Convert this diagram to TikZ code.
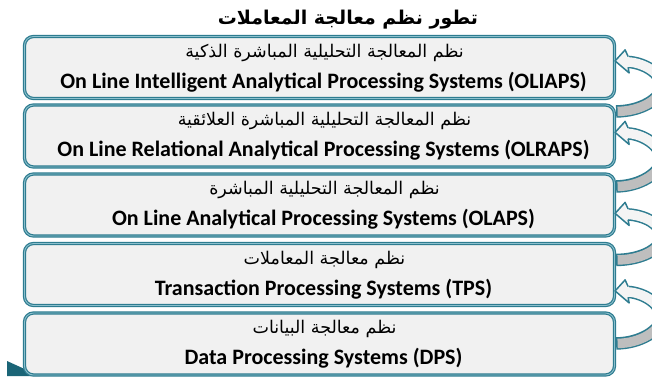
\documentclass[tikz,border=0pt]{standalone}
\usepackage{fontspec}
\usetikzlibrary{calc}
\TeXXeTstate=1
\newfontfamily\arabicfont[Script=Arabic]{DejaVu Sans}
\newfontfamily\latinfont{Carlito}
\definecolor{tealD}{HTML}{2E7C90}
\definecolor{tealL}{HTML}{8CC0CD}
\definecolor{boxfill}{HTML}{F1F1F1}
\definecolor{arrgray}{HTML}{BEBEBE}
\definecolor{arrlight}{HTML}{F4F4F4}
\definecolor{cornerdark}{HTML}{1B6577}
\tikzset{
  sysbox/.style={draw=tealD, double=tealL, double distance=0.9pt, line width=1.2pt,
    fill=boxfill, rounded corners=9pt, minimum width=590pt, minimum height=62pt, inner sep=0pt},
  artext/.style={anchor=base, inner sep=0pt, font=\arabicfont\fontsize{17.5}{20}\selectfont},
  entext/.style={anchor=base, inner sep=0pt, font=\latinfont\bfseries\fontsize{22}{24}\selectfont},
  shaftout/.style={draw=tealD, line width=12.5pt},
  shaftlow/.style={draw=arrgray, line width=9.5pt},
  shaftup/.style={draw=arrlight, line width=9.5pt},
  headfill/.style={fill=arrlight},
  headline/.style={draw=tealD, line width=1.5pt, line join=round},
}
% #1 tail coordinate, #2 head tip coordinate
\newcommand\bentarrow[2]{%
  \coordinate (hb) at ($(#2)+(13,1)$);
  \coordinate (mm) at ($(#1)!0.5!(#2)+(46,0)$);
  \draw[shaftout] (#1) .. controls ($(#1)+(24,0)$) and ($(mm)+(0,13)$) .. (mm)
     .. controls ($(mm)+(0,-13)$) and ($(hb)+(16,1)$) .. (hb);
  \draw[shaftlow] ($(#1)+(1.5,0)$) .. controls ($(#1)+(24,0)$) and ($(mm)+(0,13)$) .. (mm);
  \draw[shaftup] (mm) .. controls ($(mm)+(0,-13)$) and ($(hb)+(16,1)$) .. (hb);
  \fill[headfill] (#2) -- ($(hb)+(-3,-12)$) -- ($(hb)+(1,11)$) -- cycle;
  \fill[headfill] ($(hb)+(-2,-4.7)$) rectangle ($(hb)+(0.5,4.7)$);
  \draw[headline] ($(hb)+(0,-5.4)$) -- ($(hb)+(-3,-12)$) -- (#2) -- ($(hb)+(1,11)$) -- ($(hb)+(0,5.4)$);
}
\begin{document}
\begin{tikzpicture}[x=1pt,y=-1pt]
\useasboundingbox (0,0) rectangle (652,376);
\clip (0,0) rectangle (652,376);
\fill[white] (0,0) rectangle (652,376);
% dark corner
\fill[cornerdark] (7,361) -- (40,376) -- (7,376) -- cycle;
% title
\node[anchor=base, inner sep=0pt, font=\arabicfont\bfseries\fontsize{19}{21}\selectfont] (title) at (348,24) {\beginR تطور نظم معالجة المعاملات\endR};
% boxes
\node[sysbox] (b1) at (319.5,67.5) {};
\node[sysbox] (b2) at (319.5,136) {};
\node[sysbox] (b3) at (319.5,205) {};
\node[sysbox] (b4) at (319.5,274.5) {};
\node[sysbox] (b5) at (319.5,344) {};
% texts
\node[artext] (a1) at ($(b1)+(5,-10.5)$) {\beginR نظم المعالجة التحليلية المباشرة الذكية\endR};
\node[entext] (e1) at ($(b1)+(4,20.5)$) {On Line Intelligent Analytical Processing Systems (OLIAPS)};
\node[artext] (a2) at ($(b2)+(5,-10.5)$) {\beginR نظم المعالجة التحليلية المباشرة العلائقية\endR};
\node[entext] (e2) at ($(b2)+(4,20.5)$) {On Line Relational Analytical Processing Systems (OLRAPS)};
\node[artext] (a3) at ($(b3)+(5,-10.5)$) {\beginR نظم المعالجة التحليلية المباشرة\endR};
\node[entext] (e3) at ($(b3)+(4,20.5)$) {On Line Analytical Processing Systems (OLAPS)};
\node[artext] (a4) at ($(b4)+(5,-10.5)$) {\beginR نظم معالجة المعاملات\endR};
\node[entext] (e4) at ($(b4)+(4,20.5)$) {Transaction Processing Systems (TPS)};
\node[artext] (a5) at ($(b5)+(5,-10.5)$) {\beginR نظم معالجة البيانات\endR};
\node[entext] (e5) at ($(b5)+(4,20.5)$) {Data Processing Systems (DPS)};
% arrow end points
\coordinate (t1) at ($(b2.north east)+(1,7)$);
\coordinate (h1) at ($(b1.north east)+(0,25)$);
\coordinate (t2) at ($(b3.north east)+(1,13)$);
\coordinate (h2) at ($(b2.north east)+(0,28)$);
\coordinate (t3) at ($(b4.north east)+(1,17)$);
\coordinate (h3) at ($(b3.north east)+(0,40)$);
\coordinate (t4) at ($(b5.north east)+(1,31)$);
\coordinate (h4) at ($(b4.north east)+(0,48)$);
\bentarrow{t1}{h1}
\bentarrow{t2}{h2}
\bentarrow{t3}{h3}
\bentarrow{t4}{h4}
\end{tikzpicture}
\end{document}
